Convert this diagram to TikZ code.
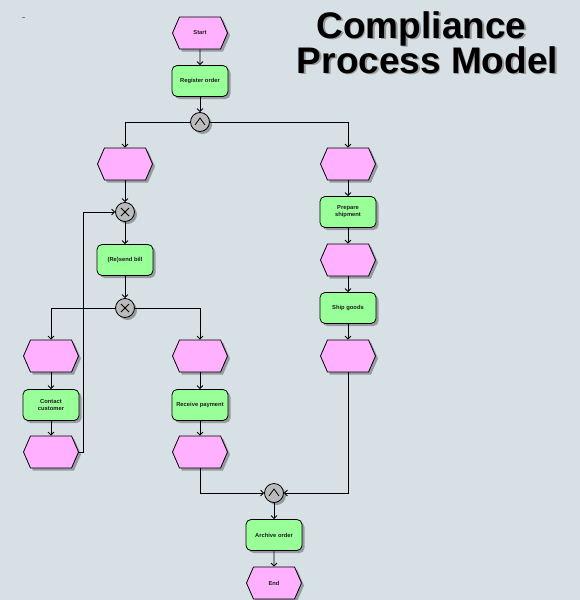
\documentclass[tikz,border=0pt]{standalone}
\usepackage{fontspec}
\setmainfont{Liberation Sans}
\usetikzlibrary{arrows.meta,shapes.symbols,shadows}
\definecolor{bgcol}{RGB}{214,224,229}
\definecolor{evtfill}{RGB}{255,176,255}
\definecolor{fnfill}{RGB}{153,255,153}
\definecolor{confill}{RGB}{187,187,187}
\definecolor{txtcol}{RGB}{30,30,30}
\tikzset{
  shadowed/.style={drop shadow={shadow xshift=2.5pt,shadow yshift=-2.5pt,fill=black,opacity=0.3}},
  event/.style={signal,signal to=west and east,signal pointer angle=133,
    minimum width=55pt,minimum height=32pt,inner sep=0pt,draw=black,line width=0.8pt,
    fill=evtfill,shadowed,text=txtcol,font=\bfseries\fontsize{5.8}{6.8}\selectfont},
  func/.style={rectangle,rounded corners=5pt,minimum width=56pt,minimum height=31pt,
    inner sep=1pt,draw=black,line width=0.8pt,fill=fnfill,shadowed,align=center,
    text=txtcol,font=\bfseries\fontsize{5.8}{6.8}\selectfont},
  conn/.style={circle,minimum size=19pt,inner sep=0pt,draw=black,line width=0.8pt,
    fill=confill,shadowed},
  flow/.style={line width=0.8pt,-{Straight Barb[length=3pt,width=6pt]}},
  titlefont/.style={font=\bfseries\fontsize{37}{39}\selectfont,anchor=base,inner sep=0pt},
}
\begin{document}
\begin{tikzpicture}[x=1pt,y=-1pt]
\useasboundingbox[fill=bgcol] (0,0) rectangle (580,600);
% small mark in the corner
\draw[gray,line width=0.6pt] (22,17) -- (25,17);
% title with a soft shadow
\node[titlefont,text=black!40] at (423,39.5) {Compliance};
\node[titlefont,text=black!40] at (429,74.5) {Process Model};
\node[titlefont] (title1) at (421.5,38) {Compliance};
\node[titlefont] (title2) at (427.5,73) {Process Model};

% events and functions
\node[event] (start) at (200,33) {Start};
\node[func] (reg) at (200,81) {Register order};
\node[conn] (and1) at (200,122) {};
\node[event] (e1) at (125,164) {};
\node[conn] (xor1) at (125,212) {};
\node[func] (bill) at (125,260) {(Re)send bill};
\node[conn] (xor2) at (125,308) {};
\node[event] (e2) at (51,356) {};
\node[func] (contact) at (51,405) {Contact\\customer};
\node[event] (e3) at (51,452) {};
\node[event] (e5) at (200,356) {};
\node[func] (pay) at (200,405) {Receive payment};
\node[event] (e6) at (200,452) {};
\node[event] (e4) at (348,164) {};
\node[func] (prep) at (348,212) {Prepare\\shipment};
\node[event] (e7) at (348,260) {};
\node[func] (ship) at (348,308) {Ship goods};
\node[event] (e8) at (348,356) {};
\node[conn] (and2) at (274,493) {};
\node[func] (arch) at (274,535) {Archive order};
\node[event] (end) at (274,583) {End};

% connector symbols
\draw[line width=0.8pt] ([shift={(-5,3)}]and1.center) -- ([shift={(0,-4)}]and1.center) -- ([shift={(5,3)}]and1.center);
\draw[line width=0.8pt] ([shift={(-5,3)}]and2.center) -- ([shift={(0,-4)}]and2.center) -- ([shift={(5,3)}]and2.center);
\foreach \c in {xor1,xor2}{
  \draw[line width=0.8pt] ([shift={(-4,-4)}]\c.center) -- ([shift={(4,4)}]\c.center);
  \draw[line width=0.8pt] ([shift={(-4,4)}]\c.center) -- ([shift={(4,-4)}]\c.center);
}

% control flow
\draw[flow] (start) -- (reg);
\draw[flow] (reg) -- (and1);
\draw[flow] (and1.west) -| (e1.north);
\draw[flow] (and1.east) -| (e4.north);
\draw[flow] (e1) -- (xor1);
\draw[flow] (xor1) -- (bill);
\draw[flow] (bill) -- (xor2);
\draw[flow] (xor2.west) -| (e2.north);
\draw[flow] (xor2.east) -| (e5.north);
\draw[flow] (e2) -- (contact);
\draw[flow] (contact) -- (e3);
\draw[flow] (e3.east) -- ++(4,0) |- (xor1.west);
\draw[flow] (e5) -- (pay);
\draw[flow] (pay) -- (e6);
\draw[flow] (e6.south) |- (and2.west);
\draw[flow] (e4) -- (prep);
\draw[flow] (prep) -- (e7);
\draw[flow] (e7) -- (ship);
\draw[flow] (ship) -- (e8);
\draw[flow] (e8.south) |- (and2.east);
\draw[flow] (and2) -- (arch);
\draw[flow] (arch) -- (end);
\end{tikzpicture}
\end{document}
